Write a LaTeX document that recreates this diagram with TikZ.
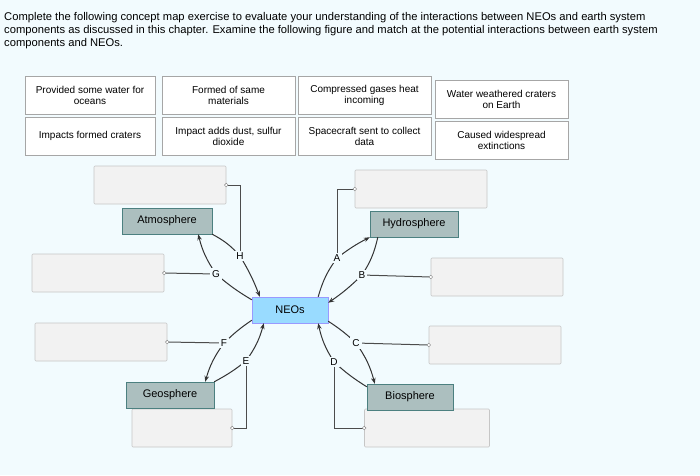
\documentclass[tikz,border=0pt]{standalone}
\usepackage{fontspec}
\setmainfont{Liberation Sans}
\usetikzlibrary{arrows.meta}
\begin{document}
\begin{tikzpicture}[x=1pt,y=-1pt,
  card/.style={draw=gray!70,fill=white,line width=0.6pt,minimum width=#1,minimum height=38pt,align=center,font=\fontsize{10}{11}\selectfont,inner sep=1pt},
  card/.default=130pt,
  blank/.style={draw=gray!45,fill=white!90!gray,line width=0.6pt,rounded corners=1pt,minimum width=132pt,minimum height=38pt},
  sphere/.style={draw=gray!60!teal,fill=teal!30!gray!50,minimum width=88pt,minimum height=26pt,font=\fontsize{11}{12}\selectfont},
  hub/.style={draw=blue!40,fill=blue!35!cyan!40,minimum width=76pt,minimum height=26pt,font=\fontsize{11}{12}\selectfont},
  arr/.style={-{Stealth[length=6pt]},line width=1pt,draw=black!80},
  lead/.style={line width=1pt,draw=black!70},
  lab/.style={fill=white!95!cyan,inner sep=2pt,font=\fontsize{10}{11}\selectfont},
  dot/.style={circle,draw=gray,fill=white,inner sep=1.3pt}]
\fill[white!95!cyan] (0,0) rectangle (700,475);
\node[anchor=north west,align=left,font=\fontsize{11.2}{13}\selectfont,inner sep=0] (hdr) at (4,12)
 {Complete the following concept map exercise to evaluate your understanding of the interactions between NEOs and earth system\\
 components as discussed in this chapter. Examine the following figure and match at the potential interactions between earth system\\
 components and NEOs.};
% cards
\node[card] (c1) at (90,95) {Provided some water for\\oceans};
\node[card=133pt] (c2) at (228.5,95) {Formed of same\\materials};
\node[card=133pt] (c3) at (364.5,95) {Compressed gases heat\\incoming};
\node[card=133pt] (c4) at (501.5,99) {Water weathered craters\\on Earth};
\node[card] (c5) at (90,136) {Impacts formed craters};
\node[card=133pt] (c6) at (228.5,136) {Impact adds dust, sulfur\\dioxide};
\node[card=133pt] (c7) at (364.5,136) {Spacecraft sent to collect\\data};
\node[card=133pt] (c8) at (501.5,140) {Caused widespread\\extinctions};
% blanks
\node[blank] (bH) at (160,185) {};
\node[blank] (bA) at (421,189) {};
\node[blank] (bG) at (98,273) {};
\node[blank] (bB) at (497,277) {};
\node[blank] (bF) at (101,342) {};
\node[blank] (bC) at (495,345) {};
\node[blank,minimum width=100pt] (bE) at (182,428) {};
\node[blank,minimum width=125pt] (bD) at (427,428) {};
% nodes
\node[sphere,minimum width=90pt] (atm) at (167,221) {Atmosphere};
\node[sphere] (hyd) at (414,224) {Hydrosphere};
\node[hub] (neo) at (290,310) {NEOs};
\node[sphere] (geo) at (170,395) {Geosphere};
\node[sphere,minimum width=86pt] (bio) at (410,397) {Biosphere};
% label anchors
\coordinate (H) at (240,256);
\coordinate (G) at (216,274);
\coordinate (A) at (337,258);
\coordinate (B) at (362,275);
\coordinate (C) at (356,343);
\coordinate (D) at (334,362);
\coordinate (E) at (246,361);
\coordinate (F) at (224,343);
% leaders
\draw[lead] (bH.east) -| (H);
\draw[lead] (bA.west) -| (A);
\draw[lead] (bG.east) -- (G);
\draw[lead] (B) -- (bB.west);
\draw[lead] (C) -- (bC.west);
\draw[lead] (bF.east) -- (F);
\draw[lead] (E) |- (bE.east);
\draw[lead] (D) |- (bD.west);
% arrows
\draw[arr] (atm.south east) to[bend left=10] (H) to[bend left=5] ([xshift=8pt]neo.north west);
\draw[arr] ([yshift=-3pt]neo.north west) to[bend left=5] (G) to[bend left=10] ([xshift=-14pt]atm.south east);
\draw[arr] ([xshift=-10pt]neo.north east) to[bend left=10] (A) to[bend left=5] (hyd.south west);
\draw[arr] ([xshift=8pt]hyd.south west) to[bend left=10] (B) to[bend left=5] ([yshift=-6pt]neo.north east);
\draw[arr] ([yshift=2pt]neo.south east) to[bend left=5] (C) to[bend left=10] ([xshift=8pt]bio.north west);
\draw[arr] ([yshift=-3pt]bio.north west) to[bend left=5] (D) to[bend left=10] ([xshift=-10pt]neo.south east);
\draw[arr] (geo.north east) to[bend right=5] (E) to[bend right=10] ([xshift=12pt]neo.south west);
\draw[arr] ([yshift=3pt]neo.south west) to[bend right=5] (F) to[bend right=10] ([xshift=-9pt]geo.north east);
% labels on top
\foreach \l in {H,G,A,B,C,D,E,F} \node[lab] (t\l) at (\l) {\l};
\foreach \b/\s in {bH/east,bA/west,bG/east,bB/west,bC/west,bF/east,bE/east,bD/west} \node[dot] at (\b.\s) {};
\end{tikzpicture}
\end{document}
